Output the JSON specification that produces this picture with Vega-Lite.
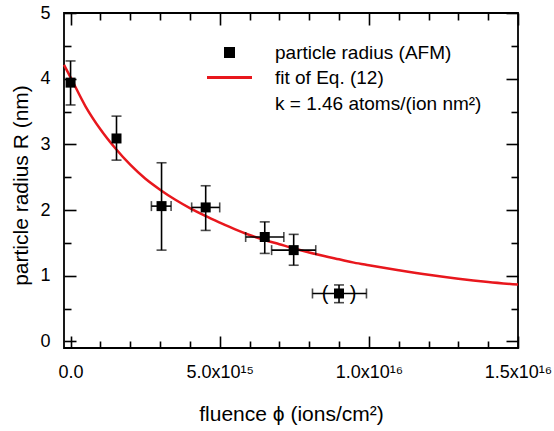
{
  "$schema": "https://vega.github.io/schema/vega-lite/v6.json",
  "width": 454,
  "height": 335,
  "padding": {"left": 10, "top": 4, "right": 5, "bottom": 5},
  "background": "white",
  "config": {
    "view": {"stroke": "black", "strokeWidth": 1.8},
    "font": "Liberation Sans",
    "axis": {
      "grid": false,
      "domain": false,
      "tickColor": "black",
      "tickWidth": 1.6,
      "labelColor": "black",
      "labelFont": "Liberation Sans",
      "labelFontSize": 18,
      "titleColor": "black",
      "titleFont": "Liberation Sans",
      "titleFontSize": 21,
      "titleFontWeight": "normal",
      "labelOverlap": false,
      "labelFlush": false,
      "labelBound": false
    }
  },
  "datasets": {
    "points": [
      {"phi": 0, "R": 3.94, "Rlo": 3.60, "Rhi": 4.27, "philo": null, "phihi": null, "excluded": false, "series": "particle radius (AFM)"},
      {"phi": 1.54e15, "R": 3.09, "Rlo": 2.76, "Rhi": 3.43, "philo": null, "phihi": null, "excluded": false, "series": "particle radius (AFM)"},
      {"phi": 3.05e15, "R": 2.06, "Rlo": 1.39, "Rhi": 2.72, "philo": 2.71e15, "phihi": 3.37e15, "excluded": false, "series": "particle radius (AFM)"},
      {"phi": 4.53e15, "R": 2.04, "Rlo": 1.69, "Rhi": 2.37, "philo": 4.06e15, "phihi": 5.0e15, "excluded": false, "series": "particle radius (AFM)"},
      {"phi": 6.51e15, "R": 1.59, "Rlo": 1.34, "Rhi": 1.82, "philo": 5.87e15, "phihi": 7.15e15, "excluded": false, "series": "particle radius (AFM)"},
      {"phi": 7.48e15, "R": 1.39, "Rlo": 1.16, "Rhi": 1.63, "philo": 6.74e15, "phihi": 8.22e15, "excluded": false, "series": "particle radius (AFM)"},
      {"phi": 9.0e15, "R": 0.73, "Rlo": 0.59, "Rhi": 0.86, "philo": 8.11e15, "phihi": 9.92e15, "excluded": true, "series": "particle radius (AFM)"}
    ],
    "fit": [
      {"phi": -2.2e14, "R": 4.21, "series": "fit of Eq. (12)"},
      {"phi": 0, "R": 4.02, "series": "fit of Eq. (12)"},
      {"phi": 5e14, "R": 3.58, "series": "fit of Eq. (12)"},
      {"phi": 1e15, "R": 3.23, "series": "fit of Eq. (12)"},
      {"phi": 1.5e15, "R": 2.94, "series": "fit of Eq. (12)"},
      {"phi": 2e15, "R": 2.69, "series": "fit of Eq. (12)"},
      {"phi": 2.5e15, "R": 2.48, "series": "fit of Eq. (12)"},
      {"phi": 3e15, "R": 2.31, "series": "fit of Eq. (12)"},
      {"phi": 3.5e15, "R": 2.16, "series": "fit of Eq. (12)"},
      {"phi": 4e15, "R": 2.03, "series": "fit of Eq. (12)"},
      {"phi": 4.5e15, "R": 1.915, "series": "fit of Eq. (12)"},
      {"phi": 5e15, "R": 1.81, "series": "fit of Eq. (12)"},
      {"phi": 5.5e15, "R": 1.71, "series": "fit of Eq. (12)"},
      {"phi": 6e15, "R": 1.62, "series": "fit of Eq. (12)"},
      {"phi": 6.5e15, "R": 1.545, "series": "fit of Eq. (12)"},
      {"phi": 7e15, "R": 1.48, "series": "fit of Eq. (12)"},
      {"phi": 7.5e15, "R": 1.415, "series": "fit of Eq. (12)"},
      {"phi": 8e15, "R": 1.355, "series": "fit of Eq. (12)"},
      {"phi": 8.5e15, "R": 1.30, "series": "fit of Eq. (12)"},
      {"phi": 9e15, "R": 1.25, "series": "fit of Eq. (12)"},
      {"phi": 9.5e15, "R": 1.20, "series": "fit of Eq. (12)"},
      {"phi": 1e16, "R": 1.16, "series": "fit of Eq. (12)"},
      {"phi": 1.1e16, "R": 1.085, "series": "fit of Eq. (12)"},
      {"phi": 1.2e16, "R": 1.015, "series": "fit of Eq. (12)"},
      {"phi": 1.3e16, "R": 0.955, "series": "fit of Eq. (12)"},
      {"phi": 1.4e16, "R": 0.905, "series": "fit of Eq. (12)"},
      {"phi": 1.5e16, "R": 0.865, "series": "fit of Eq. (12)"}
    ]
  },
  "layer": [
    {
      "data": {"name": "fit"},
      "mark": {"type": "line", "strokeWidth": 2.5, "interpolate": "monotone"},
      "encoding": {
        "x": {
          "field": "phi", "type": "quantitative",
          "scale": {"domain": [-2.2e14, 1.5e16], "nice": false, "zero": false},
          "axis": {
            "orient": "bottom",
            "title": "fluence ϕ (ions/cm²)",
            "values": [0, 5e15, 1e16, 1.5e16],
            "labelExpr": "datum.value == 0 ? '0.0' : datum.value == 5e15 ? '5.0x10¹⁵' : datum.value == 1e16 ? '1.0x10¹⁶' : '1.5x10¹⁶'",
            "tickSize": -12,
            "labelPadding": 27,
            "titlePadding": 22
          }
        },
        "y": {
          "field": "R", "type": "quantitative",
          "scale": {"domain": [-0.1, 5], "nice": false, "zero": false},
          "axis": {
            "orient": "left",
            "title": "particle radius R (nm)",
            "values": [0, 1, 2, 3, 4, 5],
            "format": "d",
            "tickSize": -12,
            "labelPadding": 26,
            "titlePadding": 8,
            "titleY": 172
          }
        },
        "color": {
          "field": "series", "type": "nominal",
          "scale": {"domain": ["particle radius (AFM)", "fit of Eq. (12)", "k = 1.46 atoms/(ion nm²)"], "range": ["black", "#e8171d", "white"]},
          "legend": {
            "title": null,
            "orient": "none",
            "legendX": 156,
            "legendY": 30,
            "padding": 0,
            "labelFont": "Liberation Sans",
            "labelFontSize": 19,
            "labelColor": "black",
            "labelLimit": 400,
            "labelOffset": 36,
            "rowPadding": 5,
            "symbolSize": 100,
            "symbolStrokeWidth": 3,
            "encode": {
              "symbols": {
                "update": {
                  "shape": [{"test": "datum.value === 'fit of Eq. (12)'", "value": "M-4.5,0H4.5"}, {"value": "M-0.8,-0.8H0.8V0.8H-0.8Z"}],
                  "size": {"value": 100},
                  "strokeWidth": {"value": 3},
                  "stroke": [{"test": "datum.value === 'fit of Eq. (12)'", "value": "#e8171d"}, {"value": "transparent"}],
                  "fill": [{"test": "datum.value === 'particle radius (AFM)'", "value": "black"}, {"value": "transparent"}],
                  "opacity": {"value": 1}
                }
              }
            }
          }
        }
      }
    },
    {
      "data": {"name": "points"},
      "transform": [{"filter": "datum.philo != null"}],
      "mark": {"type": "errorbar", "color": "black", "ticks": {"size": 10, "thickness": 1.6}, "rule": {"strokeWidth": 1.6}},
      "encoding": {
        "x": {"field": "philo", "type": "quantitative", "axis": null},
        "x2": {"field": "phihi"},
        "y": {"field": "R", "type": "quantitative", "axis": null}
      }
    },
    {
      "data": {"name": "points"},
      "mark": {"type": "errorbar", "color": "black", "ticks": {"size": 10, "thickness": 1.6}, "rule": {"strokeWidth": 1.6}},
      "encoding": {
        "x": {"field": "phi", "type": "quantitative", "axis": null},
        "y": {"field": "Rlo", "type": "quantitative", "axis": null},
        "y2": {"field": "Rhi"}
      }
    },
    {
      "data": {"name": "points"},
      "mark": {"type": "square", "size": 100, "opacity": 1, "filled": true},
      "encoding": {
        "x": {
          "field": "phi", "type": "quantitative",
          "axis": {"orient": "top", "title": null, "labels": false, "values": [0, 5e15, 1e16, 1.5e16], "tickSize": -12}
        },
        "y": {
          "field": "R", "type": "quantitative",
          "axis": {"orient": "right", "title": null, "labels": false, "values": [0, 1, 2, 3, 4, 5], "tickSize": -12}
        },
        "color": {"field": "series", "type": "nominal"}
      }
    },
    {
      "data": {"name": "points"},
      "transform": [{"filter": "datum.excluded"}],
      "mark": {"type": "text", "text": "(", "dx": -14, "dy": 1, "fontSize": 20, "font": "Liberation Sans", "color": "black"},
      "encoding": {
        "x": {
          "field": "phi", "type": "quantitative",
          "axis": {"orient": "bottom", "title": null, "labels": false, "values": [1e15, 2e15, 3e15, 4e15, 6e15, 7e15, 8e15, 9e15, 1.1e16, 1.2e16, 1.3e16, 1.4e16], "tickSize": -7}
        },
        "y": {
          "field": "R", "type": "quantitative",
          "axis": {"orient": "left", "title": null, "labels": false, "values": [0.5, 1.5, 2.5, 3.5, 4.5], "tickSize": -7}
        }
      }
    },
    {
      "data": {"name": "points"},
      "transform": [{"filter": "datum.excluded"}],
      "mark": {"type": "text", "text": ")", "dx": 14, "dy": 1, "fontSize": 20, "font": "Liberation Sans", "color": "black"},
      "encoding": {
        "x": {
          "field": "phi", "type": "quantitative",
          "axis": {"orient": "top", "title": null, "labels": false, "values": [1e15, 2e15, 3e15, 4e15, 6e15, 7e15, 8e15, 9e15, 1.1e16, 1.2e16, 1.3e16, 1.4e16], "tickSize": -7}
        },
        "y": {
          "field": "R", "type": "quantitative",
          "axis": {"orient": "right", "title": null, "labels": false, "values": [0.5, 1.5, 2.5, 3.5, 4.5], "tickSize": -7}
        }
      }
    }
  ],
  "resolve": {"axis": {"x": "independent", "y": "independent"}}
}
